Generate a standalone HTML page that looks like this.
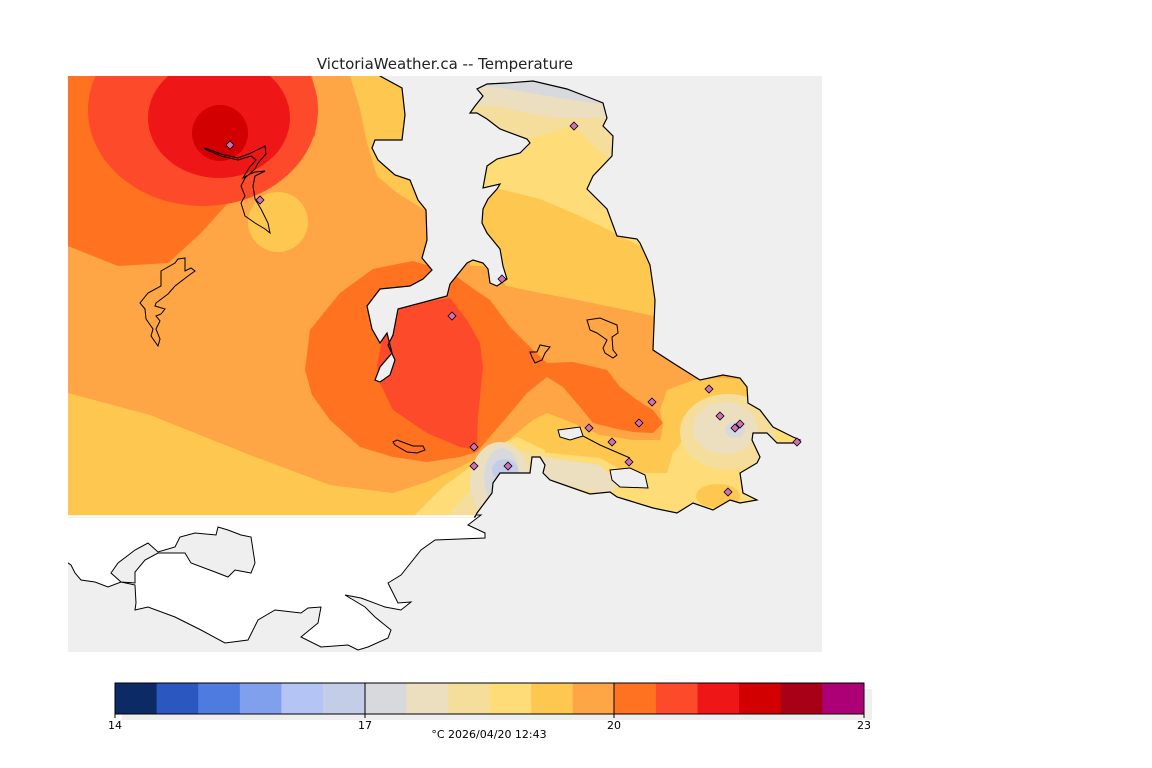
<!DOCTYPE html>
<html><head><meta charset="utf-8"><style>
html,body{margin:0;padding:0;background:#fff;}
svg{display:block;}
text{font-family:"DejaVu Sans","Liberation Sans",sans-serif;}
</style></head><body>
<svg width="1152" height="768" viewBox="0 0 1152 768" xmlns="http://www.w3.org/2000/svg">
<defs>
<clipPath id="mapc"><rect x="68" y="76" width="754" height="576"/></clipPath>
<clipPath id="fc"><path id="fp" d="M60,70 L378,70 380,76 402,88 405,115 402,140 375,140 372,148 378,160 395,175 410,180 418,200 426,210 427,240 422,258 432,270 423,279 410,286 380,289 367,306 372,329 380,343 387,333 392,353 380,367 375,380 380,382 390,375 395,360 388,345 393,335 398,309 447,296 450,284 467,263 473,260 483,263 488,269 490,283 497,286 507,279 503,266 500,249 487,233 482,223 483,209 488,199 497,189 500,184 483,188 487,166 497,159 520,153 530,143 527,139 500,129 487,119 477,113 470,113 475,106 483,96 477,89 487,84 507,83 533,81 567,89 593,99 603,103 607,118 603,126 613,136 612,156 593,176 587,189 607,209 617,236 637,239 640,243 650,265 655,300 653,350 673,363 700,380 723,375 740,378 747,387 748,403 760,410 773,427 793,437 800,440 793,443 777,443 767,433 753,433 752,440 760,457 757,463 740,473 743,493 757,500 740,503 730,500 713,510 693,503 677,513 653,508 627,500 617,497 610,492 590,494 570,487 550,480 543,473 545,465 540,457 532,457 530,473 500,473 493,483 492,493 477,513 475,517 60,517 Z"/></clipPath>
</defs>
<rect width="1152" height="768" fill="#fff"/>
<text x="445" y="69" font-size="15" text-anchor="middle" fill="#222">VictoriaWeather.ca -- Temperature</text>
<g clip-path="url(#mapc)">
<rect x="68" y="76" width="754" height="576" fill="#efefef"/>
<path d="M60,515 L481,515 468,525 485,533 485,538 435,540 421,550 401,575 388,583 398,603 411,602 401,610 385,607 361,598 345,595 365,607 375,617 391,630 388,638 368,647 358,650 348,645 321,647 301,637 318,623 321,607 308,608 301,613 275,610 258,620 248,640 225,643 201,630 175,617 148,607 135,610 136,603 135,585 121,582 108,587 95,582 81,580 75,573 71,565 68,563 60,560 Z" fill="#fff" stroke="#000" stroke-width="1"/>
<path d="M135,583 L135,572 145,560 158,553 185,553 191,563 215,572 228,577 235,570 251,573 255,563 251,537 241,535 228,530 218,527 216,535 195,533 180,537 175,547 158,552 148,543 135,550 118,563 111,573 121,582 Z" fill="#efefef" stroke="#000" stroke-width="1"/>
<g clip-path="url(#fc)">
<rect x="60" y="70" width="760" height="450" fill="#fea545"/>
<path d="M60,70 L311,70 318,109 315,136 285,156 255,176 228,203 201,233 168,263 118,266 68,246 60,246 Z" fill="#fe7220"/>
<ellipse cx="203" cy="110" rx="115" ry="96" fill="#fd4a2a"/>
<ellipse cx="219" cy="118" rx="71" ry="60" fill="#ee1616"/>
<circle cx="220" cy="133" r="28" fill="#d20000"/>
<circle cx="278" cy="222" r="30" fill="#fec850"/>
<path d="M348,70 L350,76 360,109 367,143 377,176 397,193 423,209 440,209 440,70 Z" fill="#fec850"/>
<path d="M470,266 L483,266 507,286 540,293 573,299 607,306 640,313 670,320 670,76 470,76 Z" fill="#fec850"/>
<path d="M470,185 L500,189 540,199 573,213 607,229 640,246 670,258 670,76 470,76 Z" fill="#fedc78"/>
<path d="M470,130 L527,139 547,134 573,126 593,146 610,159 625,168 625,76 470,76 Z" fill="#f5dd9c"/>
<path d="M470,105 L497,106 527,113 560,118 593,118 625,118 625,76 470,76 Z" fill="#ecdfc0"/>
<path d="M470,84 L507,89 547,96 593,103 625,106 625,76 470,76 Z" fill="#d8d9dd"/>
<path d="M540,76 L557,86 580,95 600,101 625,100 625,76 Z" fill="#c4cde8"/>
<path d="M60,393 L68,393 150,415 250,455 330,485 393,493 427,482 460,467 480,457 500,447 517,433 533,420 547,413 573,423 600,435 633,440 660,440 663,427 660,410 667,390 693,380 720,378 760,380 810,430 810,520 60,520 Z" fill="#fec850"/>
<path d="M305,370 L310,330 340,293 373,269 413,261 450,272 475,290 490,300 510,327 533,350 547,363 573,362 607,370 620,387 637,400 653,410 663,423 653,433 633,432 613,428 593,423 580,407 563,387 547,377 527,393 507,417 493,433 477,452 460,457 427,462 393,457 360,447 330,420 312,395 Z" fill="#fe7220"/>
<path d="M377,366 L383,336 400,309 420,303 450,298 467,320 480,343 483,367 478,417 477,450 460,447 427,433 393,410 380,383 Z" fill="#fd4a2a"/>
<path d="M540,452 L600,458 627,473 667,473 673,453 693,427 727,405 760,400 810,430 810,520 540,520 Z" fill="#fedc78"/>
<path d="M413,517 L443,487 470,467 493,447 517,437 545,450 545,520 Z" fill="#fedc78"/>
<ellipse cx="718" cy="496" rx="22" ry="12" fill="#fec850"/>
<path d="M447,517 L467,493 487,473 500,457 520,450 545,455 545,520 Z" fill="#f5dd9c"/>
<ellipse cx="728" cy="432" rx="48" ry="38" fill="#f5dd9c"/>
<path d="M543,457 L600,465 620,485 607,495 543,480 Z" fill="#ecdfc0"/>
<ellipse cx="725" cy="428" rx="32" ry="26" fill="#ecdfc0"/>
<ellipse cx="500" cy="482" rx="30" ry="40" fill="#ecdfc0"/>
<ellipse cx="502" cy="478" rx="18" ry="30" fill="#d8d9dd"/>
<ellipse cx="735" cy="430" rx="10" ry="8" fill="#d8d9dd"/>
<ellipse cx="505" cy="470" rx="13" ry="11" fill="#c4cde8"/>
</g>
<use href="#fp" fill="none" stroke="#000" stroke-width="1.2"/>
<path d="M60,516.5 H474" stroke="#fff" stroke-width="2.5"/>
<path d="M558,430 L580,427 583,436 570,440 560,437 Z" fill="#efefef" stroke="#000" stroke-width="1"/>
<path d="M610,470 L630,468 645,475 648,488 620,487 612,480 Z" fill="#efefef" stroke="#000" stroke-width="1"/>
<path d="M583,436 L600,445 630,458" fill="none" stroke="#000" stroke-width="1"/>
<path d="M185,258 L178,259 175,263 161,271 161,286 148,293 140,303 145,309 146,319 153,329 151,336 158,346 160,339 156,329 160,321 156,316 161,314 165,309 155,306 156,303 168,294 175,286 188,276 195,271 191,268 185,271 185,263 Z" fill="none" stroke="#000" stroke-width="1"/>
<path d="M205,148 L221,154 238,158 251,153 265,146 266,154 258,163 255,169 245,178 241,186 245,196 241,203 245,216 255,223 265,229 270,233 268,223 261,209 255,199 253,186 255,176 261,173 265,171 255,172 250,174 243,178 249,168 256,160 251,156 238,160 221,156 205,149 Z" fill="none" stroke="#000" stroke-width="1"/>
<path d="M393,442 L397,440 413,446 423,446 425,450 417,453 407,452 395,445 Z" fill="none" stroke="#000" stroke-width="1"/>
<path d="M530,352 L537,352 540,345 550,347 545,353 542,360 535,363 532,357 Z" fill="none" stroke="#000" stroke-width="1"/>
<path d="M587,320 L600,318 617,325 618,333 612,337 613,350 617,355 613,358 605,353 603,348 607,340 597,333 590,330 Z" fill="none" stroke="#000" stroke-width="1"/>
<g fill="#d070b8" stroke="#000" stroke-width="0.8">
<path d="M230,141 l4,4 -4,4 -4,-4z"/><path d="M260,196 l4,4 -4,4 -4,-4z"/>
<path d="M452,312 l4,4 -4,4 -4,-4z"/><path d="M502,275 l4,4 -4,4 -4,-4z"/>
<path d="M574,122 l4,4 -4,4 -4,-4z"/><path d="M474,443 l4,4 -4,4 -4,-4z"/>
<path d="M474,462 l4,4 -4,4 -4,-4z"/><path d="M508,462 l4,4 -4,4 -4,-4z"/>
<path d="M589,424 l4,4 -4,4 -4,-4z"/><path d="M612,438 l4,4 -4,4 -4,-4z"/>
<path d="M639,419 l4,4 -4,4 -4,-4z"/><path d="M652,398 l4,4 -4,4 -4,-4z"/>
<path d="M709,385 l4,4 -4,4 -4,-4z"/><path d="M720,412 l4,4 -4,4 -4,-4z"/>
<path d="M735,424 l4,4 -4,4 -4,-4z"/><path d="M740,420 l4,4 -4,4 -4,-4z"/>
<path d="M797,438 l4,4 -4,4 -4,-4z"/><path d="M728,488 l4,4 -4,4 -4,-4z"/>
<path d="M629,458 l4,4 -4,4 -4,-4z"/>
</g>
</g>
<rect x="122" y="689" width="750" height="31" fill="#efefef"/>
<g stroke="none">
<rect x="115" y="683" width="42" height="31" fill="#0c2a63"/>
<rect x="156.6" y="683" width="42" height="31" fill="#2a58c0"/>
<rect x="198.2" y="683" width="42" height="31" fill="#4e7be0"/>
<rect x="239.8" y="683" width="42" height="31" fill="#80a0ee"/>
<rect x="281.4" y="683" width="42" height="31" fill="#b3c4f5"/>
<rect x="323" y="683" width="42" height="31" fill="#c4cde8"/>
<rect x="364.7" y="683" width="42" height="31" fill="#d8d9dd"/>
<rect x="406.3" y="683" width="42" height="31" fill="#ecdfc0"/>
<rect x="447.9" y="683" width="42" height="31" fill="#f5dd9c"/>
<rect x="489.5" y="683" width="42" height="31" fill="#fedc78"/>
<rect x="531.1" y="683" width="42" height="31" fill="#fec850"/>
<rect x="572.7" y="683" width="42" height="31" fill="#fea545"/>
<rect x="614.3" y="683" width="42" height="31" fill="#fe7220"/>
<rect x="655.9" y="683" width="42" height="31" fill="#fd4a2a"/>
<rect x="697.5" y="683" width="42" height="31" fill="#ee1616"/>
<rect x="739.1" y="683" width="42" height="31" fill="#d20000"/>
<rect x="780.7" y="683" width="42" height="31" fill="#a80016"/>
<rect x="822.3" y="683" width="41.7" height="31" fill="#ad0077"/>
</g>
<rect x="115" y="683" width="749" height="31" fill="none" stroke="#000" stroke-width="1"/>
<path d="M365,683 V718 M614,683 V718 M115,714 V718 M864,714 V718" stroke="#000" stroke-width="1"/>
<g font-size="11" fill="#000" text-anchor="middle">
<text x="115" y="729">14</text><text x="365" y="729">17</text>
<text x="614" y="729">20</text><text x="864" y="729">23</text>
<text x="489" y="738">°C  2026/04/20 12:43</text>
</g>
</svg>
</body></html>
